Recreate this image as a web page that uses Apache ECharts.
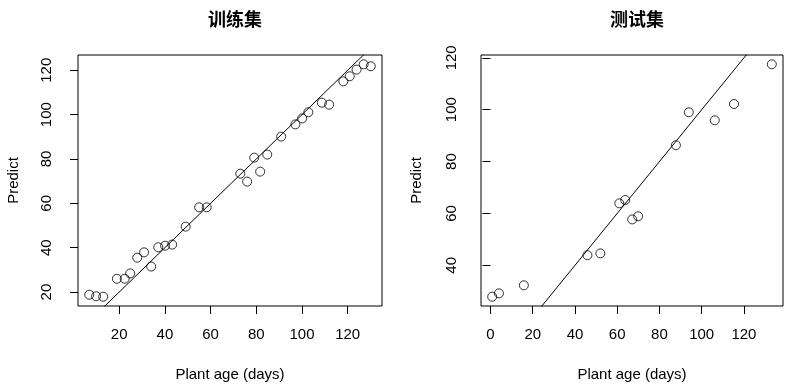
<!DOCTYPE html>
<html>
<head>
<meta charset="utf-8">
<script src="https://cdn.jsdelivr.net/npm/echarts@6/dist/echarts.min.js"></script>
<style>html,body{margin:0;padding:0;background:#fff}#c{width:792px;height:392px}</style>
</head>
<body>
<div id="c"></div>
<script>
// 训练集 (training set)
const trainAge = [6.9, 9.9, 13.0, 19.0, 22.4, 24.8, 27.9, 30.9, 34.0, 37.1, 40.1, 43.2, 49.1, 55.0, 58.3, 73.0, 76.0, 79.1, 81.7, 84.8, 90.9, 97.1, 100.1, 102.8, 108.7, 111.9, 118.1, 120.9, 123.9, 127.0, 130.1];
const trainPred = [18.8, 18.1, 17.9, 26.0, 26.0, 28.4, 35.5, 37.9, 31.5, 40.2, 40.9, 41.4, 49.5, 58.2, 58.2, 73.4, 69.8, 80.6, 74.3, 82.0, 90.1, 95.6, 98.3, 101.1, 105.4, 104.5, 115.0, 117.3, 120.3, 122.7, 121.8];
// 测试集 (test set)
const testAge = [0.8, 4.0, 15.8, 45.9, 52.0, 61.0, 63.8, 67.1, 69.9, 87.8, 93.9, 106.2, 115.3, 133.2];
const testPred = [27.9, 29.2, 32.3, 43.9, 44.6, 63.9, 65.2, 57.7, 58.9, 86.3, 99.0, 95.9, 102.2, 117.5];
// tick labels
const trainXTicks = [20, 40, 60, 80, 100, 120];
const trainYTicks = [20, 40, 60, 80, 100, 120];
const testXTicks = [0, 20, 40, 60, 80, 100, 120];
const testYTicks = [40, 60, 80, 100, 120];
const titles = ['训练集', '测试集'];
const xName = 'Plant age (days)';
const yName = 'Predict';

function ext(arr) {
  const lo = Math.min(...arr), hi = Math.max(...arr), d = (hi - lo) * 0.04;
  return [lo - d, hi + d];
}
const FONT = '"Liberation Sans", Arial, sans-serif';
function xAxis(idx, arr, ticks) {
  const r = ext(arr);
  return {
    type: 'value', gridIndex: idx, min: r[0], max: r[1],
    splitLine: {show: false}, axisLine: {show: false},
    axisTick: {show: true, length: 8, inside: false, customValues: ticks, lineStyle: {color: '#000', width: 1}},
    axisLabel: {customValues: ticks, margin: 21, color: '#000', fontSize: 15, fontFamily: FONT},
    name: xName, nameLocation: 'middle', nameGap: 61,
    nameTextStyle: {color: '#000', fontSize: 15, fontFamily: FONT}
  };
}
function yAxis(idx, arr, ticks, margin) {
  const r = ext(arr);
  return {
    type: 'value', gridIndex: idx, min: r[0], max: r[1],
    splitLine: {show: false}, axisLine: {show: false},
    axisTick: {show: true, length: 8, inside: false, customValues: ticks, lineStyle: {color: '#000', width: 1}},
    axisLabel: {customValues: ticks, margin: margin, rotate: 90, color: '#000', fontSize: 15, fontFamily: FONT},
    name: yName, nameLocation: 'middle', nameGap: 57, nameRotate: 90,
    nameTextStyle: {color: '#000', fontSize: 15, fontFamily: FONT}
  };
}
function pts(xs, ys) { return xs.map((x, i) => [x, ys[i]]); }
function diag(xs, ys) {
  const rx = ext(xs), ry = ext(ys);
  const lo = Math.min(rx[0], ry[0]), hi = Math.max(rx[1], ry[1]);
  return [[lo, lo], [hi, hi]];
}
function scatter(idx, data) {
  return {type: 'scatter', xAxisIndex: idx, yAxisIndex: idx, data: data, symbol: 'circle', symbolSize: 9,
    itemStyle: {color: 'rgba(0,0,0,0)', borderColor: '#000', borderWidth: 1}, silent: true};
}
function line(idx, data) {
  return {type: 'line', xAxisIndex: idx, yAxisIndex: idx, data: data, showSymbol: false, clip: true,
    lineStyle: {color: '#000', width: 1}, silent: true};
}
const chart = echarts.init(document.getElementById('c'), null, {renderer: 'canvas'});
chart.setOption({
  animation: false,
  backgroundColor: '#fff',
  title: [
    {text: titles[0], left: 230, top: 5, textAlign: 'center', textStyle: {fontSize: 18, fontWeight: 'bold', color: '#000', fontFamily: '"Noto Sans CJK SC", sans-serif'}},
    {text: titles[1], left: 632, top: 5, textAlign: 'center', textStyle: {fontSize: 18, fontWeight: 'bold', color: '#000', fontFamily: '"Noto Sans CJK SC", sans-serif'}}
  ],
  grid: [
    {left: 78, top: 55, width: 304, height: 251, show: true, borderColor: '#000', borderWidth: 1, backgroundColor: 'transparent'},
    {left: 481, top: 55, width: 302, height: 251, show: true, borderColor: '#000', borderWidth: 1, backgroundColor: 'transparent'}
  ],
  xAxis: [xAxis(0, trainAge, trainXTicks), xAxis(1, testAge, testXTicks)],
  yAxis: [yAxis(0, trainPred, trainYTicks, 24), yAxis(1, testPred, testYTicks, 22)],
  series: [
    line(0, diag(trainAge, trainPred)),
    scatter(0, pts(trainAge, trainPred)),
    line(1, diag(testAge, testPred)),
    scatter(1, pts(testAge, testPred))
  ]
});
</script>
</body>
</html>
